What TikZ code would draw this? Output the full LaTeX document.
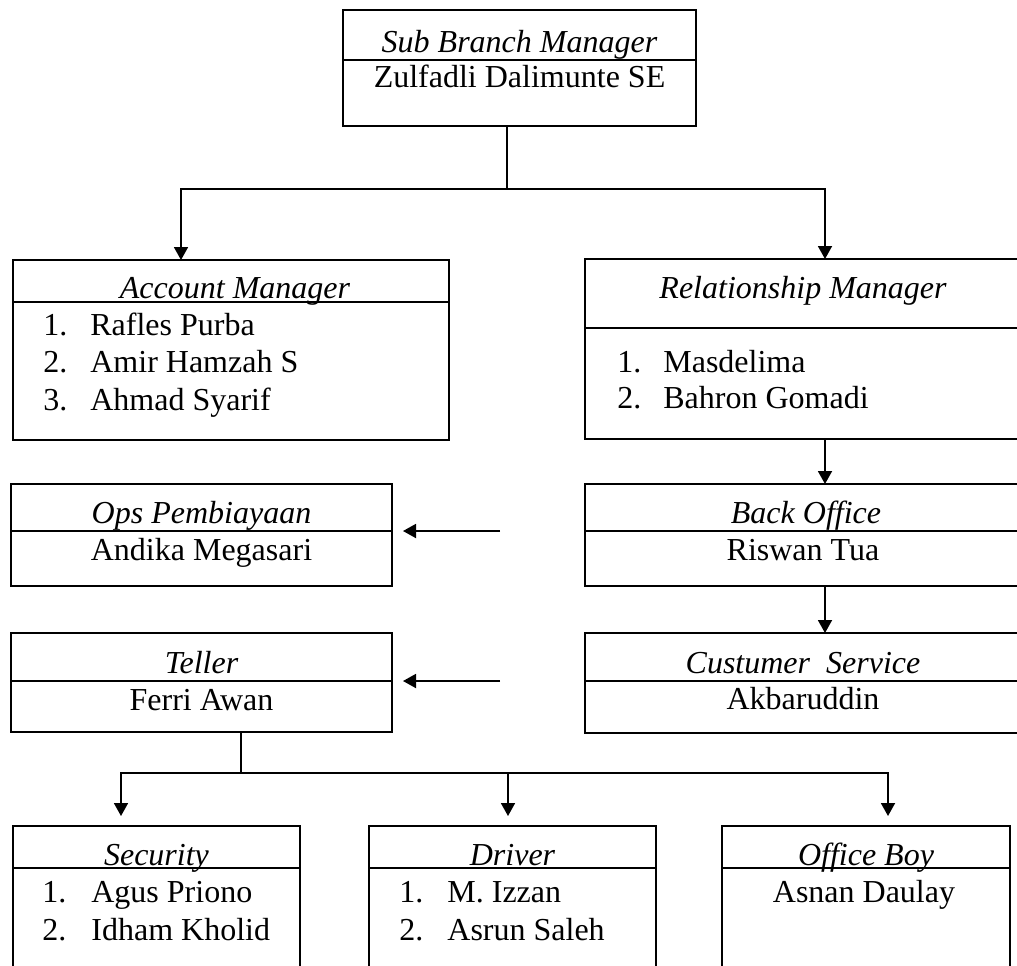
\documentclass[tikz,border=0pt]{standalone}
\usepackage{fontspec}
\setmainfont{Liberation Serif}
\usepackage{tikz}
\usetikzlibrary{arrows.meta}

\begin{document}
\begin{tikzpicture}[x=0.5pt, y=-0.5pt,
  part/.style={draw, line width=0.85pt, inner sep=0pt, outer sep=0pt, anchor=north west},
  ttl/.style={inner sep=0pt, anchor=base, font={\fontsize{16}{19}\selectfont\itshape}},
  who/.style={inner sep=0pt, anchor=base, font={\fontsize{16}{19}\selectfont}},
  entry/.style={inner sep=0pt, anchor=base west, font={\fontsize{16}{19}\selectfont}},
  link/.style={-{Triangle[length=6.5pt, width=7pt]}, line width=0.9pt, black},
  stem/.style={line width=0.6pt, black}]
\clip (0, 0) rectangle (1017, 965);

\node [part, minimum width=176.5pt, minimum height=25pt] (sbm-t) at (343, 10) {};
\node [part, minimum width=176.5pt, minimum height=33pt] (sbm-b) at (sbm-t.south west) {};
\node [ttl] (sbm-ttl) at ([yshift=4pt]sbm-t.south) {Sub Branch Manager};
\node [who] (sbm-who) at ([yshift=-13.5pt]sbm-t.south) {Zulfadli Dalimunte SE};

\node [part, minimum width=218pt, minimum height=21pt] (am-t) at (13, 260) {};
\node [part, minimum width=218pt, minimum height=69pt] (am-b) at (am-t.south west) {};
\node [ttl] (am-ttl) at ([xshift=2pt, yshift=2pt]am-t.south) {Account Manager};
\node [entry] (am-1) at (43, 335) {\makebox[23.5pt][l]{1.}Rafles Purba};
\node [entry] (am-2) at (43, 372) {\makebox[23.5pt][l]{2.}Amir Hamzah S};
\node [entry] (am-3) at (43, 410) {\makebox[23.5pt][l]{3.}Ahmad Syarif};

\node [part, minimum width=218pt, minimum height=34.5pt] (rm-t) at (585, 259) {};
\node [part, minimum width=218pt, minimum height=55.5pt] (rm-b) at (rm-t.south west) {};
\node [ttl] (rm-ttl) at ([yshift=15pt]rm-t.south) {Relationship Manager};
\node [entry] (rm-1) at (617, 372) {\makebox[23pt][l]{1.}Masdelima};
\node [entry] (rm-2) at (617, 408) {\makebox[23pt][l]{2.}Bahron Gomadi};

\node [part, minimum width=190.5pt, minimum height=23.5pt] (ops-t) at (11, 484) {};
\node [part, minimum width=190.5pt, minimum height=27.5pt] (ops-b) at (ops-t.south west) {};
\node [ttl] (ops-ttl) at ([yshift=4pt]ops-t.south) {Ops Pembiayaan};
\node [who] (ops-who) at ([yshift=-14.5pt]ops-t.south) {Andika Megasari};

\node [part, minimum width=218pt, minimum height=23.5pt] (bo-t) at (585, 484) {};
\node [part, minimum width=218pt, minimum height=27.5pt] (bo-b) at (bo-t.south west) {};
\node [ttl] (bo-ttl) at ([xshift=1.5pt, yshift=4pt]bo-t.south) {Back Office};
\node [who] (bo-who) at ([yshift=-14.5pt]bo-t.south) {Riswan Tua};

\node [part, minimum width=190.5pt, minimum height=24pt] (tel-t) at (11, 633) {};
\node [part, minimum width=190.5pt, minimum height=25.5pt] (tel-b) at (tel-t.south west) {};
\node [ttl] (tel-ttl) at ([yshift=4pt]tel-t.south) {Teller};
\node [who] (tel-who) at ([yshift=-14.5pt]tel-t.south) {Ferri Awan};

\node [part, minimum width=218pt, minimum height=24pt] (cs-t) at (585, 633) {};
\node [part, minimum width=218pt, minimum height=26pt] (cs-b) at (cs-t.south west) {};
\node [ttl] (cs-ttl) at ([yshift=4pt]cs-t.south) {Custumer\ \ Service};
\node [who] (cs-who) at ([yshift=-14pt]cs-t.south) {Akbaruddin};

\node [part, minimum width=143.5pt, minimum height=21pt] (sec-t) at (13, 826) {};
\node [part, minimum width=143.5pt, minimum height=56pt] (sec-b) at (sec-t.south west) {};
\node [ttl] (sec-ttl) at ([yshift=1.5pt]sec-t.south) {Security};
\node [entry] (sec-1) at (42, 902) {\makebox[24.5pt][l]{1.}Agus Priono};
\node [entry] (sec-2) at (42, 940) {\makebox[24.5pt][l]{2.}Idham Kholid};

\node [part, minimum width=143.5pt, minimum height=21pt] (drv-t) at (369, 826) {};
\node [part, minimum width=143.5pt, minimum height=56pt] (drv-b) at (drv-t.south west) {};
\node [ttl] (drv-ttl) at ([yshift=1.5pt]drv-t.south) {Driver};
\node [entry] (drv-1) at (399, 902) {\makebox[24pt][l]{1.}M. Izzan};
\node [entry] (drv-2) at (399, 940) {\makebox[24pt][l]{2.}Asrun Saleh};

\node [part, minimum width=144pt, minimum height=21pt] (ob-t) at (722, 826) {};
\node [part, minimum width=144pt, minimum height=56pt] (ob-b) at (ob-t.south west) {};
\node [ttl] (ob-ttl) at ([yshift=1.5pt]ob-t.south) {Office Boy};
\node [who] (ob-who) at ([xshift=-1pt, yshift=-17pt]ob-t.south) {Asnan Daulay};

\coordinate (sbm-fork) at (507, 189);
\draw [stem] (sbm-b.south -| sbm-fork) -- (sbm-fork);
\draw [link] (sbm-fork) -| ([xshift=-25pt]am-t.north);
\draw [link] (sbm-fork) -| ([xshift=11pt]rm-t.north);
\draw [link] ([xshift=11pt]rm-b.south) -- ([xshift=11pt]bo-t.north);
\draw [link] ([xshift=11pt]bo-b.south) -- ([xshift=11pt]cs-t.north);
\draw [link] ([xshift=-42.5pt]bo-t.south west) -- ([xshift=5.5pt]ops-t.south east);
\draw [link] ([xshift=-42.5pt]cs-t.south west) -- ([xshift=5.5pt]tel-t.south east);

\coordinate (tel-fork) at (241, 773);
\draw [stem] (tel-b.south -| tel-fork) -- (tel-fork);
\draw [link] (tel-fork) -| ([xshift=-17.75pt, yshift=5pt]sec-t.north);
\draw [link] (tel-fork) -| ([xshift=-2.25pt, yshift=5pt]drv-t.north);
\draw [link] (tel-fork) -| ([xshift=11pt, yshift=5pt]ob-t.north);
\end{tikzpicture}
\end{document}
